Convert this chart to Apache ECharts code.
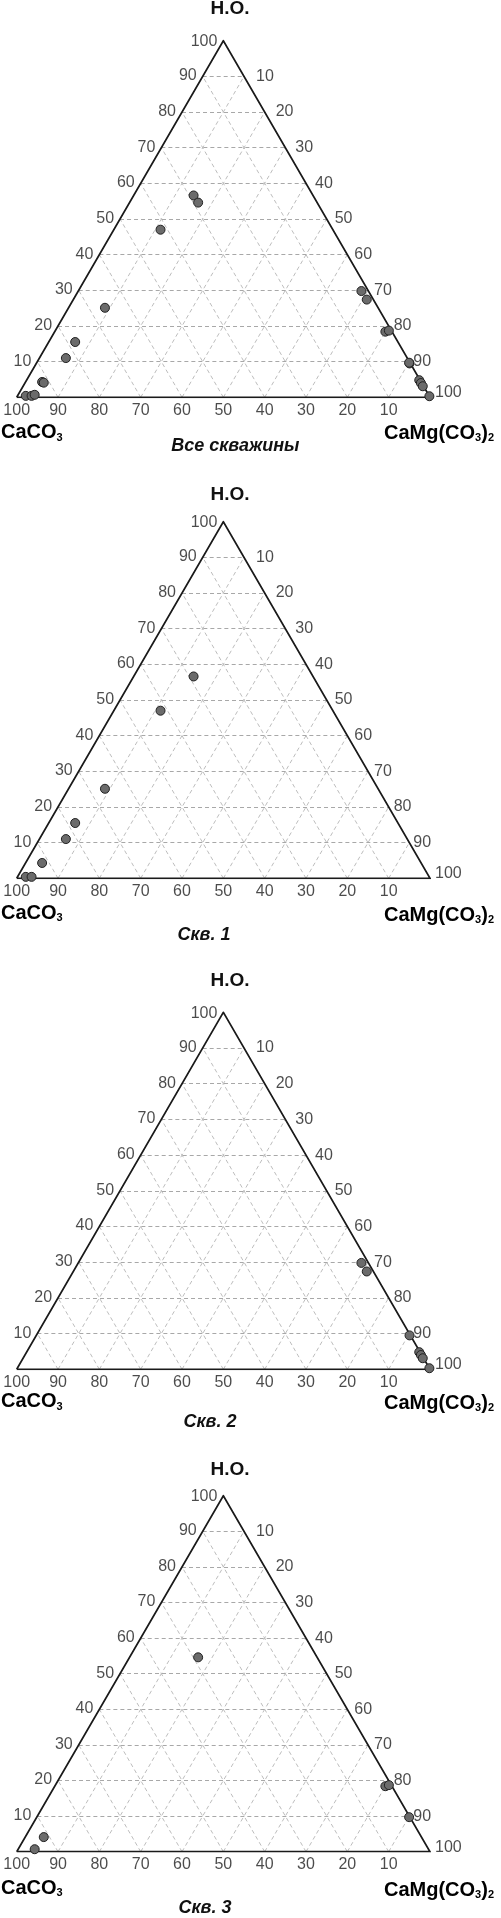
<!DOCTYPE html>
<html>
<head>
<meta charset="utf-8">
<script src="https://cdn.jsdelivr.net/npm/echarts@6/dist/echarts.min.js"></script>
<style>
html,body{margin:0;padding:0;background:#fff;}
#chart{width:501px;height:1918px;}
</style>
</head>
<body>
<div id="chart"></div>
<script>
// ---- data (percent) ----
const well1HO    = [56.6, 47.0, 25.1, 15.5, 11.0, 4.3, 0.4, 0.4];
const well1CaCO3 = [28.9, 41.7, 66.1, 78.1, 82.6, 91.7, 97.6, 96.2];
const well1Dol   = [14.5, 11.3, 8.8, 6.4, 6.4, 4.0, 2.0, 3.4];

const well2HO    = [29.8, 27.4, 9.5, 4.8, 4.0, 3.1, 0.3];
const well2CaCO3 = [1.7, 1.6, 0.2, 0.2, 0.2, 0.2, 0.0];
const well2Dol   = [68.5, 71.0, 90.3, 95.0, 95.8, 96.7, 99.7];

const well3HO    = [54.6, 18.4, 18.7, 9.7, 4.1, 0.7];
const well3CaCO3 = [28.8, 1.6, 0.6, 0.2, 91.4, 95.3];
const well3Dol   = [16.6, 80.0, 80.7, 90.1, 4.5, 4.0];

const gridTicks  = [10, 20, 30, 40, 50, 60, 70, 80, 90];
const caco3Ticks = [100, 90, 80, 70, 60, 50, 40, 30, 20, 10];
const hoTicks    = [10, 20, 30, 40, 50, 60, 70, 80, 90, 100];
const dolTicks   = [10, 20, 30, 40, 50, 60, 70, 80, 90, 100];

const panelTitles = ['Все скважины', 'Скв. 1', 'Скв. 2', 'Скв. 3'];
const apexLabel = 'Н.О.';

// ---- layout ----
const panels = [
  {top: 40.7,  height: 356.6, ho: 8.5,    side: [432.7, 433], sub: [235.3, 445.7]},
  {top: 521.7, height: 356.6, ho: 495,    side: [913.3, 915], sub: [204, 935]},
  {top: 1012.3,height: 357,   ho: 981,    side: [1401.7, 1403.3], sub: [210, 1421.7]},
  {top: 1495.7,height: 356,   ho: 1469.3, side: [1888.3, 1890], sub: [205, 1908.3]}
];
const GL = 16.7, GW = 413.3;
const SQ = Math.sqrt(3) / 2;
const FONT = '"Liberation Sans", Arial, sans-serif';

function tern(h, d) { return [d + h / 2, h * SQ]; }
function pts(H, C, D) { return H.map((h, i) => tern(h, D[i])); }

const wells = [
  pts(well1HO.concat(well2HO, well3HO), well1CaCO3.concat(well2CaCO3, well3CaCO3), well1Dol.concat(well2Dol, well3Dol)),
  pts(well1HO, well1CaCO3, well1Dol),
  pts(well2HO, well2CaCO3, well2Dol),
  pts(well3HO, well3CaCO3, well3Dol)
];

const hLines = gridTicks.map(h => ({coords: [tern(h, 0), tern(h, 100 - h)]}));
const dLines = gridTicks.map(d => ({coords: [tern(0, d), tern(100 - d, d)]}));
const cLines = gridTicks.map(c => ({coords: [tern(0, 100 - c), tern(100 - c, 0)]}));
const edges = [{coords: [tern(0, 0), tern(0, 100), tern(100, 0), tern(0, 0)]}];

const grids = [], xAxes = [], yAxes = [], series = [], graphics = [];
const tickFont = {fontSize: 16, color: '#1e1e1e', fontFamily: FONT};

panels.forEach((p, i) => {
  grids.push({left: GL, width: GW, top: p.top, height: p.height});
  xAxes.push({type: 'value', gridIndex: i, min: 0, max: 100, show: false});
  yAxes.push({type: 'value', gridIndex: i, min: 0, max: 100 * SQ, show: false});
  const ax = {xAxisIndex: i, yAxisIndex: i, silent: true, animation: false};
  series.push(Object.assign({type: 'lines', coordinateSystem: 'cartesian2d', polyline: false,
    data: dLines.concat(cLines), lineStyle: {color: '#bdbdbd', width: 1, type: [4, 3], opacity: 1}}, ax));
  series.push(Object.assign({type: 'lines', coordinateSystem: 'cartesian2d', polyline: false,
    data: hLines, lineStyle: {color: '#a8a8a8', width: 1, type: [4, 3], opacity: 1}}, ax));
  series.push(Object.assign({type: 'lines', coordinateSystem: 'cartesian2d', polyline: true,
    data: edges, lineStyle: {color: '#1a1a1a', width: 1.7, type: 'solid', opacity: 1}}, ax));
  // tick labels
  series.push(Object.assign({type: 'scatter', symbolSize: 0,
    data: caco3Ticks.map(c => ({name: String(c), value: tern(0, 100 - c)})),
    label: Object.assign({show: true, position: 'bottom', distance: 5, formatter: '{b}'}, tickFont)}, ax));
  series.push(Object.assign({type: 'scatter', symbolSize: 0,
    data: hoTicks.map(h => ({name: String(h), value: tern(h, 0), label: {offset: [0, h === 100 ? 1 : -0.5]}})),
    label: Object.assign({show: true, position: 'left', distance: 6, formatter: '{b}'}, tickFont)}, ax));
  series.push(Object.assign({type: 'scatter', symbolSize: 0,
    data: dolTicks.map(d => ({name: String(d), value: tern(100 - d, d),
      label: {offset: d === 100 ? [0, -4.5] : [0, 0], distance: d === 100 ? 5 : 13 - d * 0.1}})),
    label: Object.assign({show: true, position: 'right', formatter: '{b}'}, tickFont)}, ax));
  // data points
  series.push(Object.assign({type: 'scatter', symbol: 'circle', symbolSize: 9, data: wells[i],
    itemStyle: {color: '#6b6b6b', borderColor: '#222', borderWidth: 1, opacity: 1}}, ax));

  const big = {fontSize: 19, fontWeight: 'bold', fontFamily: FONT, fill: '#111'};
  const rich = {
    n: {fontSize: 20, fontWeight: 'bold', fontFamily: FONT, color: '#111', lineHeight: 23},
    s: {fontSize: 11, fontWeight: 'bold', fontFamily: FONT, color: '#111', lineHeight: 23, padding: [10, 0, 0, 0]}
  };
  graphics.push({type: 'text', x: 230, y: p.ho, silent: true,
    style: Object.assign({text: apexLabel, align: 'center', verticalAlign: 'middle'}, big)});
  graphics.push({type: 'text', x: 1, y: p.side[0], silent: true,
    style: {text: '{n|CaCO}{s|3}', rich: rich, align: 'left', verticalAlign: 'middle'}});
  graphics.push({type: 'text', x: 494, y: p.side[1], silent: true,
    style: {text: '{n|CaMg(CO}{s|3}{n|)}{s|2}', rich: rich, align: 'right', verticalAlign: 'middle'}});
  graphics.push({type: 'text', x: p.sub[0], y: p.sub[1], silent: true,
    style: {text: panelTitles[i], align: 'center', verticalAlign: 'middle', fontSize: 18,
      fontWeight: 'bold', fontStyle: 'italic', fontFamily: FONT, fill: '#111'}});
});

const chart = echarts.init(document.getElementById('chart'), null, {renderer: 'canvas'});
chart.setOption({
  animation: false,
  backgroundColor: '#fff',
  grid: grids, xAxis: xAxes, yAxis: yAxes,
  series: series,
  graphic: graphics
});
</script>
</body>
</html>
